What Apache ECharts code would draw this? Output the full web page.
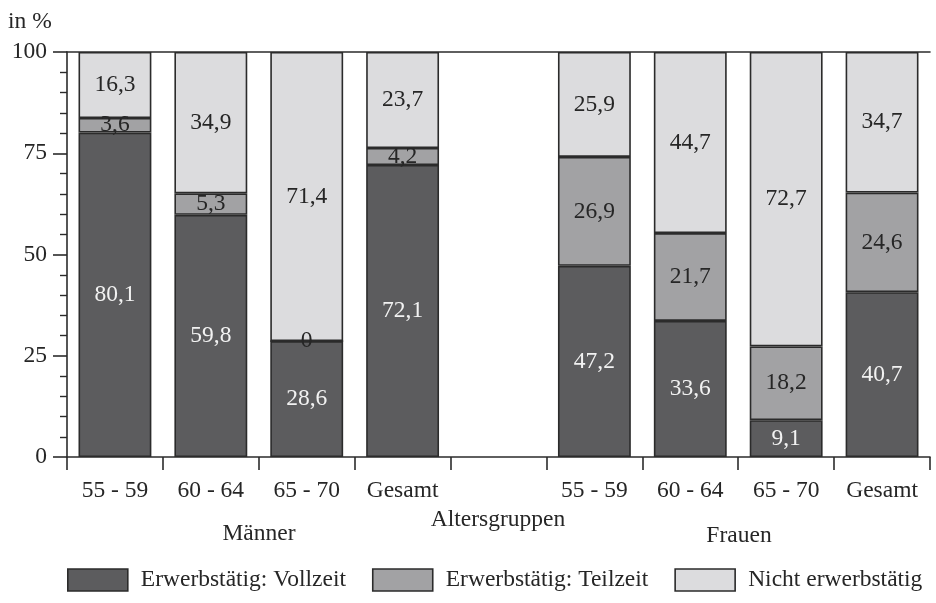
<!DOCTYPE html>
<html>
<head>
<meta charset="utf-8">
<script src="https://cdn.jsdelivr.net/npm/echarts@6/dist/echarts.min.js"></script>
<style>html,body{margin:0;padding:0;background:#fff}#c{width:936px;height:603px}</style>
</head>
<body>
<div id="c"></div>
<script>
const categories = ['55 - 59', '60 - 64', '65 - 70', 'Gesamt', '', '55 - 59', '60 - 64', '65 - 70', 'Gesamt'];
const vollzeit = [80.1, 59.8, 28.6, 72.1, null, 47.2, 33.6, 9.1, 40.7];
const teilzeit = [3.6, 5.3, 0, 4.2, null, 26.9, 21.7, 18.2, 24.6];
const nicht = [16.3, 34.9, 71.4, 23.7, null, 25.9, 44.7, 72.7, 34.7];
const yTicks = [0, 25, 50, 75, 100];
const seriesNames = ['Erwerbstätig: Vollzeit', 'Erwerbstätig: Teilzeit', 'Nicht erwerbstätig'];
const groupNames = ['Männer', 'Frauen'];
const axisTitle = 'Altersgruppen';
const unitLabel = 'in %';

const FONT = '"Liberation Serif", "DejaVu Serif", serif';
const TXT = '#262626';
const FS = 23.5;

function fmt(p) { return p.value == null ? '' : String(p.value).replace('.', ','); }
function mk(name, data, color, labelColor) {
  return {
    name: name, type: 'bar', stack: 'all', data: data,
    barCategoryGap: '24%',
    itemStyle: { color: color, borderColor: '#2b2b2b', borderWidth: 1.6 },
    label: { show: true, position: 'inside', formatter: fmt, color: labelColor,
      fontFamily: FONT, fontSize: FS },
    emphasis: { disabled: true },
    animation: false
  };
}

const chart = echarts.init(document.getElementById('c'));
chart.setOption({
  animation: false,
  grid: { left: 67, right: 6, top: 52, bottom: 146, containLabel: false },
  legend: {
    bottom: 6, left: 62,
    itemWidth: 60, itemHeight: 22, itemGap: 26,
    icon: 'rect',
    data: seriesNames,
    textStyle: { fontFamily: FONT, fontSize: FS, color: TXT, padding: [0, 0, 0, 8] },
    itemStyle: { borderColor: '#2b2b2b', borderWidth: 1.6 }
  },
  xAxis: [{
    type: 'category', data: categories, position: 'bottom',
    axisLine: { lineStyle: { color: '#2b2b2b', width: 1.6 } },
    axisTick: { show: true, length: 13, inside: false, alignWithLabel: false, lineStyle: { color: '#2b2b2b', width: 1.6 } },
    axisLabel: { fontFamily: FONT, fontSize: FS, color: TXT, margin: 22, interval: 0 },
    splitLine: { show: false }
  }, {
    type: 'category', data: categories, position: 'top',
    axisLine: { show: true, lineStyle: { color: '#2b2b2b', width: 1.6 } },
    axisTick: { show: false }, axisLabel: { show: false }
  }],
  yAxis: {
    type: 'value', min: yTicks[0], max: yTicks[yTicks.length - 1], interval: 25,
    axisLine: { show: true, lineStyle: { color: '#2b2b2b', width: 1.6 } },
    axisTick: { show: true, length: 14, lineStyle: { color: '#2b2b2b', width: 1.6 } },
    minorTick: { show: true, splitNumber: 5, length: 7, lineStyle: { color: '#2b2b2b', width: 1.4 } },
    axisLabel: { fontFamily: FONT, fontSize: FS, color: TXT, margin: 20 },
    splitLine: { show: false }
  },
  series: [
    mk(seriesNames[0], vollzeit, '#5c5c5e', '#f2f2f2'),
    mk(seriesNames[1], teilzeit, '#a2a2a4', TXT),
    mk(seriesNames[2], nicht, '#dcdcde', TXT)
  ],
  graphic: [
    { type: 'text', x: 8, y: 22, style: { text: unitLabel, font: FS + 'px ' + FONT, fill: TXT, align: 'left', verticalAlign: 'middle' } },
    { type: 'text', x: 259, y: 534, style: { text: groupNames[0], font: FS + 'px ' + FONT, fill: TXT, align: 'center', verticalAlign: 'middle' } },
    { type: 'text', x: 739, y: 536, style: { text: groupNames[1], font: FS + 'px ' + FONT, fill: TXT, align: 'center', verticalAlign: 'middle' } },
    { type: 'text', x: 498, y: 520, style: { text: axisTitle, font: FS + 'px ' + FONT, fill: TXT, align: 'center', verticalAlign: 'middle' } }
  ]
});
</script>
</body>
</html>
